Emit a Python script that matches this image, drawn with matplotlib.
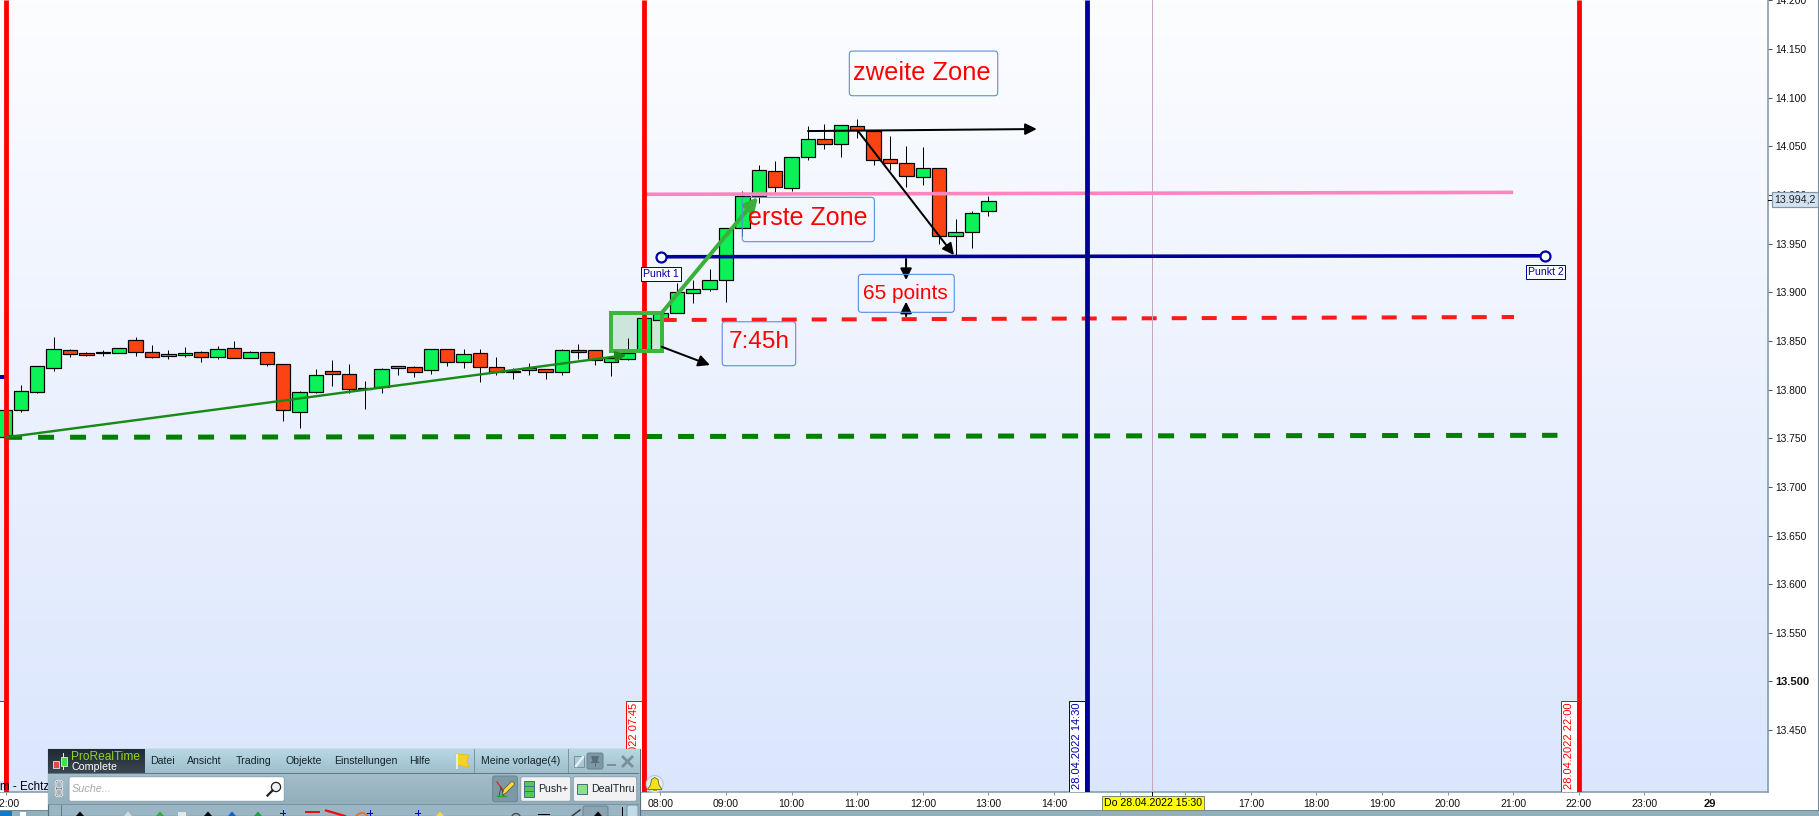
#!/usr/bin/env python3
# -*- coding: utf-8 -*-
"""
ProRealTime 15min candle chart with zones and hand drawn objects
"""
import numpy as np
import matplotlib
matplotlib.use('Agg')
import matplotlib.pyplot as plt
from matplotlib.patches import Rectangle, FancyBboxPatch, Circle, Polygon

plt.rcParams['font.family'] = ['Liberation Sans', 'DejaVu Sans']

# ============ data ============
# bar position: 15min bars, 0 = 08:00
bar_pos = list(range(-40, 21))
opens = [13751.6, 13778.6, 13797.8, 13822.5, 13840.3, 13837.6, 13837.2, 13837.2, 13850.6, 13838.3,
         13834.8, 13835.9, 13838.3, 13833.8, 13842.4, 13832.8, 13838.3, 13825.9, 13777.3, 13797.8,
         13818.7, 13815.6, 13800.2, 13803.0, 13822.5, 13822.8, 13819.8, 13841.3, 13828.7, 13837.2,
         13822.8, 13818.7, 13819.8, 13820.8, 13817.7, 13840.7, 13840.3, 13828.7, 13831.7, 13840.7,
         13871.5, 13878.3, 13898.9, 13903.0, 13912.3, 13965.7, 13998.9, 14024.3, 14006.8, 14038.7,
         14057.2, 14052.0, 14070.5, 14066.1, 14036.6, 14032.5, 14018.1, 14027.4, 13957.5, 13961.6,
         13983.2]
closes = [13778.6, 13798.2, 13823.9, 13841.3, 13836.2, 13835.9, 13838.3, 13842.4, 13838.3, 13833.8,
          13836.2, 13837.2, 13833.8, 13841.3, 13832.8, 13838.3, 13825.9, 13778.6, 13797.1, 13814.6,
          13816.3, 13800.9, 13801.3, 13820.8, 13823.9, 13818.4, 13841.3, 13828.0, 13836.2, 13823.5,
          13817.7, 13817.7, 13821.8, 13817.7, 13840.3, 13838.9, 13830.0, 13832.1, 13837.2, 13873.2,
          13878.3, 13899.9, 13903.0, 13912.3, 13965.7, 13998.9, 14025.3, 14007.8, 14038.7, 14057.2,
          14052.0, 14071.6, 14066.8, 14035.6, 14032.5, 14019.1, 14027.4, 13957.5, 13961.6, 13981.1,
          13994.2]
highs = [13778.6, 13804.7, 13823.9, 13854.4, 13841.7, 13838.6, 13840.7, 13842.4, 13854.4, 13845.8,
         13840.7, 13843.7, 13839.3, 13845.1, 13849.9, 13839.6, 13838.3, 13825.9, 13798.5, 13821.1,
         13830.4, 13826.3, 13808.8, 13822.2, 13823.9, 13824.2, 13841.3, 13841.3, 13841.7, 13841.7,
         13833.5, 13821.8, 13827.3, 13820.8, 13841.7, 13846.8, 13840.3, 13832.1, 13853.3, 13873.2,
         13878.3, 13909.9, 13912.6, 13923.9, 13965.7, 14004.4, 14030.8, 14034.9, 14038.7, 14070.9,
         14072.9, 14071.6, 14078.0, 14066.1, 14060.6, 14050.0, 14049.3, 14027.4, 13974.9, 13983.9,
         13999.3]
lows = [13751.6, 13776.9, 13796.5, 13819.4, 13833.5, 13834.5, 13834.5, 13837.2, 13834.5, 13832.4,
        13831.4, 13833.5, 13828.3, 13831.7, 13832.8, 13832.8, 13824.2, 13767.7, 13760.5, 13796.1,
        13803.7, 13796.5, 13780.0, 13796.5, 13815.0, 13812.9, 13816.0, 13824.2, 13822.2, 13807.8,
        13815.0, 13810.8, 13815.0, 13810.8, 13815.0, 13831.4, 13825.2, 13813.9, 13830.0, 13840.7,
        13871.5, 13878.3, 13889.3, 13901.6, 13890.3, 13958.2, 13992.1, 14003.4, 14004.4, 14036.3,
        14047.6, 14039.4, 14058.9, 14030.8, 14025.7, 14008.5, 14010.6, 13949.6, 13938.3, 13945.8,
        13978.4]

y_ticks = [13450, 13500, 13550, 13600, 13650, 13700, 13750, 13800, 13850, 13900,
           13950, 14000, 14050, 14100, 14150, 14200]
y_labels = ['13.450', '13.500', '13.550', '13.600', '13.650', '13.700', '13.750', '13.800',
            '13.850', '13.900', '13.950', '14.000', '14.050', '14.100', '14.150', '14.200']
x_ticks = [-39.9, 0, 4, 8, 12, 16, 20, 24, 28, 32, 36, 40, 44, 48, 52, 56, 60, 64]
x_labels = ['22:00', '08:00', '09:00', '10:00', '11:00', '12:00', '13:00', '14:00', '15:00', '16:00',
            '17:00', '18:00', '19:00', '20:00', '21:00', '22:00', '23:00', '29']
last_price = '13.994,2'

# vertical lines: position, colour, label
v_lines = [(-39.9, '#ff0000', '27.04.2022 22:00'),
           (-1, '#ff0000', '28.04.2022 07:45'),
           (26, '#00009c', '28.04.2022 14:30'),
           (56, '#ff0000', '28.04.2022 22:00')]
cursor_pos = 30
cursor_label = 'Do 28.04.2022 15:30'

pink_x, pink_y = [-0.95, 52.0], [14000.7, 14002.7]
blue_x, blue_y = [0.05, 53.94], [13936.5, 13937.5]
red_x, red_y = [0.08, 52.05], [13871.5, 13874.6]
green_x, green_y = [-39.9, 54.7], [13750.9, 13753.0]

# arrows: (x0, y0, x1, y1)
thin_green = (-39.9, 13750.9, -2.07, 13835.5)
thick_green = (0.08, 13878.7, 5.95, 13997.9)
black_arrows = [(9.0, 14065.7, 22.95, 14067.8),
                (12.05, 14065.7, 17.9, 13938.3),
                (0.08, 13844.0, 3.02, 13825.2),
                (14.98, 13934.2, 14.98, 13912.6),
                (14.98, 13875.6, 14.98, 13890.3)]
zone_box = (-3.01, 13839.9, 0.08, 13878.4)

# text boxes: text, x0, x1, y0, y1, text x, text y, size
text_boxes = [('zweite Zone', 11.52, 20.57, 14102.0, 14147.9, 15.97, 14125.7, 18.4),
              ('erste Zone', 4.99, 13.05, 13952.0, 13997.6, 9.0, 13976.0, 18.0),
              ('65 points', 12.07, 17.92, 13879.4, 13918.4, 14.95, 13898.6, 15.0),
              ('7:45h', 3.77, 8.25, 13824.5, 13869.7, 6.0, 13849.2, 17.6)]
punkt_labels = [('Punkt 1', 0.04, 13918.8), ('Punkt 2', 53.97, 13920.8)]

# ============ figure ============
W, H = 1819, 816
PX = 0.72  # 1px in points at dpi 100
fig = plt.figure(figsize=(W / 100, H / 100), dpi=100, facecolor='white')
ax = fig.add_axes([0, (H - 792) / H, 1768 / W, 792 / H])
ax.set_xlim(-40.27, 67.54)
ax.set_ylim(13386.4, 14200.4)

# background gradient
top_col = np.array([252, 253, 255]) / 255
bot_col = np.array([219, 230, 253]) / 255
t = np.linspace(0, 1, 256)[:, None, None]
ax.imshow(top_col * (1 - t) + bot_col * t, aspect='auto', zorder=0,
          extent=(-40.27, 67.54, 13386.4, 14200.4))

# zone fill below the candles
ax.add_patch(Rectangle((zone_box[0], zone_box[1]), zone_box[2] - zone_box[0], zone_box[3] - zone_box[1],
                       facecolor='#cde6db', edgecolor='none', zorder=1))

# candles
body_col = ['#0cf155' if c >= o else '#fb4411' for o, c in zip(opens, closes)]
ax.vlines(bar_pos, lows, highs, color='black', linewidth=1.0 * PX, zorder=2)
ax.bar(bar_pos, [abs(c - o) for o, c in zip(opens, closes)], bottom=[min(o, c) for o, c in zip(opens, closes)],
       width=0.87, color=body_col, edgecolor='black', linewidth=1.2 * PX, zorder=3)

# horizontal objects
ax.plot(green_x, green_y, color='#008000', linewidth=5 * PX, linestyle=(0, (3.2, 3.2)), zorder=4,
        dash_capstyle='butt')
ax.plot(red_x, red_y, color='#ff1a1a', linewidth=4 * PX, linestyle=(0, (3.75, 3.75)), zorder=4,
        dash_capstyle='butt')
ax.plot(pink_x, pink_y, color='#ff85c0', linewidth=3.6 * PX, zorder=5, solid_capstyle='butt')
ax.plot(blue_x, blue_y, color='#00009c', linewidth=3.6 * PX, zorder=5, solid_capstyle='butt')
ax.plot(blue_x, blue_y, linestyle='none', marker='o', markersize=10 * PX, markerfacecolor='white',
        markeredgecolor='#00009c', markeredgewidth=2.2 * PX, zorder=6)

# vertical lines and date labels
ax.axvline(cursor_pos, color='#c9a6c0', linewidth=1 * PX, zorder=4)
for pos, col, txt in v_lines:
    ax.axvline(pos, color=col, linewidth=4.8 * PX, zorder=5, solid_capstyle='butt')
    ax.add_patch(Rectangle((pos - 1.07, 13386.4), 0.94, 13479.6 - 13386.4, facecolor='white',
                           edgecolor=col, linewidth=1 * PX, zorder=5))
    ax.text(pos - 0.58, 13434.0, txt, rotation=90, color=col, fontsize=8.0, ha='center', va='center', zorder=6)

# zone rectangle edge
ax.add_patch(Rectangle((zone_box[0], zone_box[1]), zone_box[2] - zone_box[0], zone_box[3] - zone_box[1],
                       facecolor='none', edgecolor='#3cb53c', linewidth=4 * PX, zorder=6))


def arrow(a, color, lw, scale, z):
    ax.annotate('', xy=(a[2], a[3]), xytext=(a[0], a[1]), zorder=z,
                arrowprops=dict(arrowstyle='-|>', color=color, lw=lw, mutation_scale=scale,
                                shrinkA=0, shrinkB=0))


arrow(thin_green, '#178a17', 2.4 * PX, 15, 7)
arrow(thick_green, '#3ab03a', 4 * PX, 20, 7)
for a in black_arrows:
    arrow(a, 'black', 2 * PX, 17, 8)

# text boxes
aspect = (1768 / 107.81) / (792 / 814.0)
for txt, x0, x1, y0, y1, tx, ty, size in text_boxes:
    ax.add_patch(FancyBboxPatch((x0, y0), x1 - x0, y1 - y0, boxstyle='round,pad=0,rounding_size=0.2',
                                mutation_aspect=aspect, facecolor='none', edgecolor='#5b8de0',
                                linewidth=1.1 * PX, zorder=9))
    ax.text(tx, ty, txt, color='#ff0000', fontsize=size, ha='center', va='center', zorder=9)
for txt, tx, ty in punkt_labels:
    ax.text(tx, ty, txt, color='#00009c', fontsize=7.6, ha='center', va='center', zorder=9,
            bbox=dict(boxstyle='square,pad=0.18', facecolor='white', edgecolor='#00009c', linewidth=1 * PX))

# left blue tick next to the first red line
ax.plot([-40.27, -39.9], [13812.9, 13812.9], color='#00009c', linewidth=4 * PX, zorder=4,
        solid_capstyle='butt')

# axes style
for side in ('left', 'top'):
    ax.spines[side].set_visible(False)
for side in ('right', 'bottom'):
    ax.spines[side].set_color('#7d95a3')
    ax.spines[side].set_linewidth(1.5 * PX)
ax.yaxis.tick_right()
ax.set_yticks(y_ticks)
ax.set_yticklabels(y_labels)
ax.set_xticks(x_ticks)
ax.set_xticklabels(x_labels)
ax.tick_params(axis='y', length=4 * PX, width=1 * PX, color='#445560', labelsize=7.4, pad=2.2, labelcolor='#101010')
ax.tick_params(axis='x', length=3 * PX, width=1 * PX, color='#7d95a3', labelsize=7.6, pad=3, labelcolor='#101010')
for lbl in ax.get_yticklabels():
    if lbl.get_text() == '13.500':
        lbl.set_fontweight('bold')
        lbl.set_fontsize(8.0)
for lbl in ax.get_xticklabels():
    if lbl.get_text() == '29':
        lbl.set_fontweight('bold')
        lbl.set_fontsize(8.0)

# ============ window chrome in pixel coordinates ============
ui = fig.add_axes([0, 0, 1, 1], zorder=10)
ui.axis('off')


def box(x0, y0, x1, y1, fc='none', ec='none', lw=0.0, z=2):
    ui.add_patch(Rectangle((x0, y0), x1 - x0, y1 - y0, facecolor=fc, edgecolor=ec, linewidth=lw * PX, zorder=z))


def rbox(x0, y0, x1, y1, fc='none', ec='none', lw=1.0, z=2, r=2.0):
    ui.add_patch(FancyBboxPatch((x0, y0), x1 - x0, y1 - y0, boxstyle=f'round,pad=0,rounding_size={r}',
                                facecolor=fc, edgecolor=ec, linewidth=lw * PX, zorder=z))


def grad(x0, y0, x1, y1, c0, c1, z=1):
    c0 = np.array(matplotlib.colors.to_rgb(c0))
    c1 = np.array(matplotlib.colors.to_rgb(c1))
    g = np.linspace(0, 1, 32)[:, None, None]
    ui.imshow(c0 * (1 - g) + c1 * g, aspect='auto', extent=(x0, x1, y1, y0), zorder=z)


def label(x, y, s, size=7.6, color='#14232e', z=5, **kw):
    ui.text(x, y, s, fontsize=size, color=color, ha=kw.pop('ha', 'left'), va='center', zorder=z, **kw)


# bottom strip and right edge
box(0, 810, W, 816, fc='#93aebc', z=1)
box(0, 810, W, 811, fc='#6f8a98', z=1)
box(0, 811, 12, 816, fc='#1477cf', z=1)
box(20, 812, 26, 816, fc='white', z=1)
box(1817.5, 0, W, 810, fc='#6f8a98', z=1)

# status text over the first date label, its end runs under the toolbar
box(0, 781, 4, 791, fc='#dbe6fd', z=1)
label(0, 786.5, 'm - Echtzeit', size=8.4, color='black', z=1.2)

# price tag and cursor label
box(1768, 199.5, 1773, 200.5, fc='black')
box(1772, 192.3, 1817.5, 207.3, fc='#d5e2ee', ec='#7d97a8', lw=1.2)
label(1794.7, 200, last_price, size=7.7, ha='center', color='#18252e')
box(1101.6, 796, 1204.4, 810, fc='#ffff00', ec='#7d8a70', lw=1)
label(1153, 803.2, cursor_label, size=7.6, ha='center', color='black')
box(1152, 792, 1153, 796, fc='black')

# bell
ui.add_patch(Circle((654.7, 784), 8.5, facecolor='#e3ecf8', edgecolor='#b9c8d4', linewidth=0.8, zorder=2))
ui.add_patch(Polygon([(647.5, 789.5), (650.5, 785), (651.5, 779.5), (654.7, 777.5), (658, 779.5), (659, 785),
                      (662, 789.5)], closed=True, facecolor='#f4e21a', edgecolor='#6b6a10', linewidth=0.6, zorder=3))
box(653, 789.5, 656.5, 791, fc='#b9a810', z=3)

# toolbar window
box(47.5, 748.5, 639.5, 816, fc='#9ab5c3', ec='#55707e', lw=1.2, z=1.5)
grad(48, 749, 639, 773, '#b9d8e6', '#9fbecb', z=2)
grad(48, 774, 639, 804, '#a3bdca', '#93aebc', z=2)
box(48, 773, 639, 774, fc='#60798a', z=3)
box(48, 804, 639, 805, fc='#7a94a2', z=3)
grad(48, 749, 144, 773, '#1f2a33', '#3a4650', z=3)

# logo
box(52.5, 761, 59, 768, fc='#e8474b', ec='#eeeeee', lw=0.8, z=4)
box(60.5, 757, 66.5, 766, fc='#43e043', ec='#eeeeee', lw=0.8, z=4)
box(63, 753, 64, 770, fc='#e8e8e8', z=3.5)
label(71, 756.5, 'ProRealTime', size=8.6, color='#8fd81e')
label(71, 767, 'Complete', size=7.7, color='white')

# menu
menu_x = [150, 187.3, 236, 285.3, 334, 409.3, 481]
menu_items = ['Datei', 'Ansicht', 'Trading', 'Objekte', 'Einstellungen', 'Hilfe', 'Meine vorlage(4)']
for mx, item in zip(menu_x, menu_items):
    label(mx, 761, item)
box(474, 749, 475, 773, fc='#7a94a2', z=3)
box(568, 749, 569, 773, fc='#7a94a2', z=3)

# flag
ui.add_patch(Polygon([(456, 754), (469, 755), (467, 761), (469, 767), (457, 765)], closed=True,
                     facecolor='#f8d02a', edgecolor='#e8b810', linewidth=0.5, zorder=4))
box(456, 754, 457.5, 769, fc='#e8e8e8', z=4)

# window buttons
box(574, 756, 584, 767, fc='none', ec='#7d8f9a', lw=1, z=4)
ui.plot([576, 583], [766, 757], color='#eaf2f6', linewidth=1.6, zorder=5)
rbox(587, 753, 603, 769, fc='#7e98a6', ec='#6a8492', z=4)
ui.add_patch(Polygon([(591, 756), (599, 756), (597.5, 761), (600, 763), (590, 763), (592.5, 761)], closed=True,
                     facecolor='#5a6e7a', zorder=5))
box(594.5, 763, 595.5, 767, fc='#5a6e7a', z=5)
box(607, 764, 616, 766, fc='#7d909a', z=4)
ui.plot([623, 632], [757, 766], color='#7d909a', linewidth=2.0, zorder=4)
ui.plot([623, 632], [766, 757], color='#7d909a', linewidth=2.0, zorder=4)

# search row
rbox(69, 776.7, 284.3, 801.3, fc='white', ec='#8aa3b0', z=3)
label(71.7, 788.5, 'Suche...', size=7.8, color='#a8a8a8', style='italic')
ui.add_patch(Circle((276, 787), 4.6, facecolor='#eef2f4', edgecolor='#222222', linewidth=0.9, zorder=4))
ui.plot([272.5, 267.5], [790.5, 795.5], color='#222222', linewidth=1.6, zorder=4)
rbox(56, 781, 62, 789, fc='none', ec='white', lw=2.2, z=4)
rbox(56, 788, 62, 796, fc='none', ec='white', lw=2.2, z=4)
rbox(56, 781, 62, 789, fc='none', ec='#555555', lw=0.6, z=4.5)
rbox(56, 788, 62, 796, fc='none', ec='#555555', lw=0.6, z=4.5)

# pencil button
rbox(492.7, 776, 517.3, 801.7, fc='#7e98a6', ec='#6a8492', z=3)
ui.add_patch(Polygon([(502, 795), (504, 789), (512, 781), (515, 784), (506, 793)], closed=True,
                     facecolor='#f2d84a', edgecolor='#555533', linewidth=0.5, zorder=5))
ui.plot([497, 505], [782, 793], color='#e02020', linewidth=0.9, zorder=4)
ui.plot([497, 506], [796, 796], color='#20b020', linewidth=1.0, zorder=4)
ui.plot([499, 501, 504], [796, 787, 796], color='#444444', linewidth=0.6, zorder=4)

# Push+ / DealThru buttons
rbox(520.7, 776.7, 570.7, 801.3, fc='#f2f2f2', ec='#8aa3b0', z=3)
box(524, 781, 534, 796.7, fc='#55c855', ec='#45708a', lw=1, z=4)
box(524, 786, 534, 787, fc='#45708a', z=5)
box(524, 791, 534, 792, fc='#45708a', z=5)
label(538, 789, 'Push+')
rbox(573.3, 776.7, 636.7, 801.3, fc='#f2f2f2', ec='#8aa3b0', z=3)
box(577.3, 784, 587.3, 794, fc='#8be08b', ec='#45708a', lw=1, z=4)
label(591, 789, 'DealThru')

# drawing tools row, only the top of it is on screen
box(60.5, 805, 61.5, 816, fc='#60798a', z=3)
rbox(583, 806, 608, 820, fc='#8aa4b2', ec='#6a8492', z=3)
rbox(627, 805, 638, 820, fc='#c3dbe8', ec='#7a94a2', z=3)
icon_x = [80, 128, 160, 208, 232, 258, 440, 598]
icon_col = ['black', '#d8d8d8', '#33aa33', 'black', '#1060d0', '#20a040', '#f4d84a', 'black']
for ix, ic in zip(icon_x, icon_col):
    ui.add_patch(Polygon([(ix - 4, 816), (ix, 811.5), (ix + 4, 816)], closed=True, facecolor=ic, zorder=4))
box(178, 811.5, 186, 816, fc='#e4e8ea', z=4)
for ix in (283, 370, 418):
    box(ix - 3, 813, ix + 3, 814, fc='#0000d0', z=4)
    box(ix - 0.5, 810, ix + 0.5, 816, fc='#0000d0', z=4)
box(305, 811, 320, 813, fc='#e81010', z=4)
ui.plot([326, 345], [810.5, 816], color='#e81010', linewidth=1.6, zorder=4)
ui.add_patch(Circle((362, 820), 7, facecolor='none', edgecolor='#e87030', linewidth=1.4, zorder=4))
ui.add_patch(Circle((516, 818), 4.5, facecolor='none', edgecolor='#444444', linewidth=0.9, zorder=4))
box(538, 814, 550, 815, fc='black', z=4)
ui.plot([572, 580], [816, 810], color='#333333', linewidth=1.0, zorder=4)
box(621.5, 807, 622.5, 816, fc='black', z=4)

ui.set_xlim(0, W)
ui.set_ylim(H, 0)

plt.savefig('out.png', dpi=100, facecolor='white')
plt.close()
